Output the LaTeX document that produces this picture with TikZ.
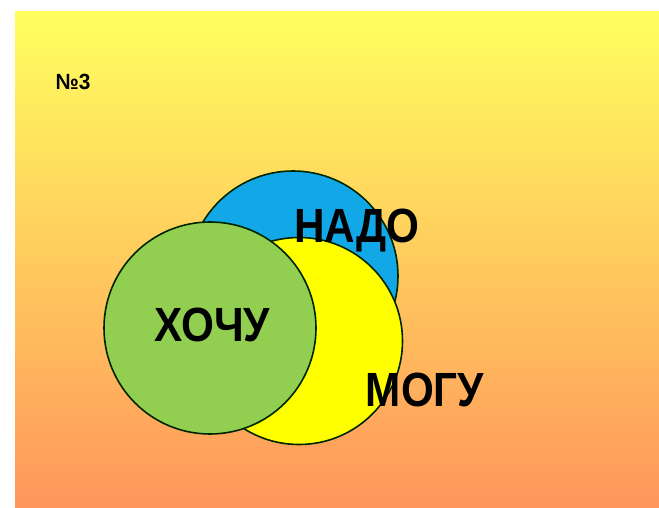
\documentclass[tikz,border=0pt]{standalone}
\usepackage{fontspec}
\setmainfont{Liberation Sans}
\definecolor{bgtop}{RGB}{255,255,95}
\definecolor{bgmid}{RGB}{255,205,100}
\definecolor{bgbot}{RGB}{255,150,92}
\definecolor{cblue}{RGB}{18,168,232}
\definecolor{cyellow}{RGB}{255,255,0}
\definecolor{cgreen}{RGB}{146,206,80}
\tikzset{
  venn/.style={draw=black!85!green, line width=1.6pt},
  biglabel/.style={font=\fontsize{48}{48}\selectfont\bfseries, xscale=0.88, inner sep=0pt},
}
\begin{document}
\begin{tikzpicture}[x=1pt,y=-1pt]
\useasboundingbox (0,0) rectangle (659,508);
\shade[top color=bgtop, middle color=bgmid, bottom color=bgbot] (15,12) rectangle (659,508);
\node[font=\fontsize{22}{22}\selectfont\bfseries, xscale=0.95, inner sep=0pt] (num) at (73,82) {№3};
\fill[cblue] (293,276) circle (105);
\draw[venn] (293,276) circle (105);
\fill[cyellow] (299,341) circle (103.5);
\draw[venn] (299,341) circle (103.5);
\fill[cgreen] (210,328) circle (106);
\draw[venn] (210,328) circle (106);
\node[biglabel] (nado) at (357,231) {НАДО};
\node[biglabel] (hochu) at (212,325) {ХОЧУ};
\node[biglabel] (mogu) at (425,390) {МОГУ};
\end{tikzpicture}
\end{document}
